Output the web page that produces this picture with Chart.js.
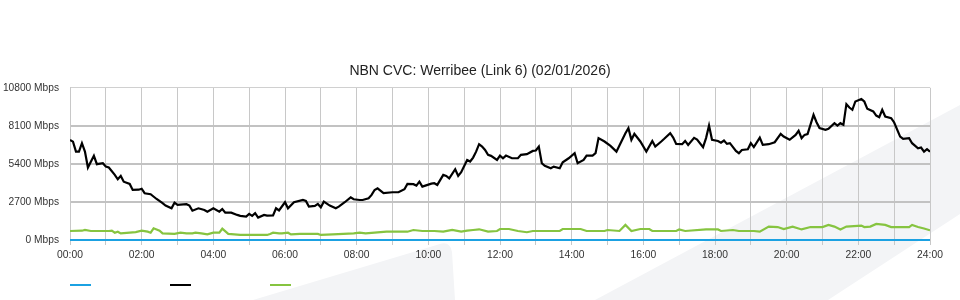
<!DOCTYPE html>
<html>
<head>
<meta charset="utf-8">
<script src="https://cdn.jsdelivr.net/npm/chart.js@4/dist/chart.umd.min.js"></script>
<style>
  html, body { margin: 0; padding: 0; background: #fff; }
  #wrap { position: relative; width: 960px; height: 300px; }
  canvas { display: block; }
  .lg { position: absolute; top: 284px; width: 21px; height: 2px; }
</style>
</head>
<body>
<div id="wrap">
  <canvas id="c" width="960" height="300"></canvas>
  <div class="lg" style="left:70px;background:#1ba1e2"></div>
  <div class="lg" style="left:170px;background:#000"></div>
  <div class="lg" style="left:270px;background:#86c440"></div>
</div>
<script>
// ---- data (times in minutes after midnight, values in Mbps) ----
const chartTitle = 'NBN CVC: Werribee (Link 6) (02/01/2026)';
const yTicks = [0, 2700, 5400, 8100, 10800];
const xLabelHours = [0, 2, 4, 6, 8, 10, 12, 14, 16, 18, 20, 22, 24];

const blueTimes  = [0, 60, 120, 180, 240, 300, 360, 420, 480, 540, 600, 660, 720, 780, 840, 900, 960, 1020, 1080, 1140, 1200, 1260, 1320, 1380, 1440];
const blueValues = [0, 0, 0, 0, 0, 0, 0, 0, 0, 0, 0, 0, 0, 0, 0, 0, 0, 0, 0, 0, 0, 0, 0, 0, 0];

const blackTimes = [0,5,10,15,20,25,30,40,45,55,60,65,75,80,85,90,100,105,115,120,125,135,145,155,160,170,175,180,195,200,205,215,225,230,240,250,255,260,270,280,285,295,300,305,310,315,325,330,340,345,350,360,365,375,390,395,400,410,415,420,425,435,445,450,460,470,475,485,490,500,505,510,515,525,540,550,560,565,575,580,585,590,595,605,610,615,625,630,635,645,650,655,665,670,675,680,685,690,695,700,705,715,720,725,730,740,750,755,765,775,780,785,790,795,805,810,820,825,835,845,850,860,865,875,880,885,895,905,915,920,930,935,940,945,955,965,975,980,990,995,1005,1010,1015,1025,1030,1035,1045,1050,1060,1065,1070,1075,1085,1090,1095,1100,1105,1115,1120,1125,1135,1140,1145,1155,1160,1170,1180,1190,1195,1205,1215,1220,1225,1230,1235,1245,1250,1255,1265,1270,1280,1285,1290,1295,1300,1305,1310,1315,1325,1330,1335,1345,1350,1355,1360,1365,1375,1380,1390,1395,1405,1410,1420,1425,1430,1435,1440];
const blackValues = [7100,6980,6270,6270,6870,6270,5140,5970,5380,5450,5210,5140,4620,4310,4550,4140,3980,3550,3570,3640,3320,3250,2910,2610,2440,2250,2650,2490,2540,2440,2080,2250,2130,2010,2250,2010,2200,1940,1940,1780,1710,1660,1850,1710,1900,1590,1780,1730,1750,2250,2100,2680,2250,2680,2840,2770,2370,2420,2560,2320,2720,2440,2250,2370,2680,3030,2890,2840,2840,2960,3200,3550,3670,3320,3390,3390,3600,3980,3960,3860,4140,3790,3860,4000,4030,3910,4620,4550,4380,5020,4550,4810,5680,5570,5850,6270,6800,6630,6390,6040,5970,5680,5990,5800,5990,5800,5800,6040,6090,6320,6350,6630,5450,5260,5090,5210,5090,5520,5800,6160,5450,5680,5990,5990,6160,7230,6990,6680,6270,6700,7580,7940,7110,7530,6990,6270,7030,6630,6990,7180,7580,7270,6820,6800,7030,6750,7250,7130,6590,7230,8120,7110,7030,6910,7060,6820,6870,6320,6160,6390,6440,6870,6590,7270,6750,6800,6940,7530,7340,7110,7460,7750,7230,7460,7510,8880,8360,7940,7820,7890,8290,8120,8290,8170,9640,9400,9240,9830,10000,9830,9310,9120,8830,8720,9240,8760,8650,8340,7340,7180,7230,6870,6510,6560,6270,6450,6270];

const greenTimes = [0,20,25,35,65,70,75,80,85,100,110,120,130,135,140,150,155,175,185,195,205,210,220,230,240,250,255,265,275,285,305,330,335,340,350,355,365,370,385,415,420,440,475,485,495,515,530,565,575,590,610,625,640,655,665,675,685,700,715,720,735,750,765,775,820,825,855,865,895,900,920,930,940,955,970,975,1015,1020,1030,1065,1085,1090,1110,1120,1145,1155,1170,1185,1195,1210,1225,1240,1260,1270,1280,1290,1300,1325,1330,1340,1350,1365,1375,1405,1410,1420,1430,1440];
const greenValues = [640,660,710,640,640,660,520,590,470,520,560,660,590,520,830,660,470,430,520,470,470,520,470,400,520,520,800,430,400,360,360,360,430,520,470,470,520,400,430,430,360,400,470,520,470,540,590,590,710,640,640,590,710,590,660,710,760,590,640,780,780,640,550,640,640,780,780,640,640,710,640,1070,640,780,780,640,640,750,640,750,750,640,710,640,640,590,950,920,780,950,750,920,920,1070,950,750,950,1020,920,950,1140,1070,920,920,1070,920,820,690];

function pts(times, values) { return times.map((t, i) => ({ x: t, y: values[i] })); }

Chart.defaults.font.family = '"Liberation Sans", Arial, sans-serif';

const watermark = {
  id: 'watermark',
  beforeDraw(chart) {
    const ctx = chart.ctx;
    ctx.save();
    ctx.fillStyle = '#f3f4f6';
    ctx.beginPath();
    ctx.moveTo(595, 300); ctx.lineTo(960, 105); ctx.lineTo(960, 214); ctx.lineTo(828, 300);
    ctx.closePath(); ctx.fill();
    ctx.beginPath();
    ctx.moveTo(253, 300); ctx.lineTo(440, 244);
    ctx.quadraticCurveTo(450, 241, 452, 252);
    ctx.lineTo(455, 300);
    ctx.closePath(); ctx.fill();
    ctx.restore();
  }
};

new Chart(document.getElementById('c'), {
  type: 'line',
  data: {
    datasets: [
      { label: '', data: pts(blueTimes, blueValues), borderColor: '#1ba1e2', borderWidth: 2.2, pointRadius: 0, tension: 0, clip: false },
      { label: '', data: pts(blackTimes, blackValues), borderColor: '#000000', borderWidth: 2.2, pointRadius: 0, tension: 0 },
      { label: '', data: pts(greenTimes, greenValues), borderColor: '#86c440', borderWidth: 2.2, pointRadius: 0, tension: 0 }
    ]
  },
  options: {
    responsive: false,
    animation: false,
    layout: { padding: { top: 63, left: 0, right: 0, bottom: 37 } },
    plugins: {
      legend: { display: false },
      tooltip: { enabled: false },
      title: {
        display: true, text: chartTitle, color: '#222',
        font: { size: 14, weight: 'normal' },
        padding: { top: 0, bottom: 8 }
      }
    },
    scales: {
      x: {
        type: 'linear', min: 0, max: 1440,
        afterFit(s) { s.height = 23; },
        ticks: {
          stepSize: 60, autoSkip: false, maxRotation: 0, padding: 4,
          color: '#333', font: { size: 10.3 },
          callback(v) {
            const h = v / 60;
            return xLabelHours.includes(h) ? String(h).padStart(2, '0') + ':00' : '';
          }
        },
        grid: { color: '#c8c8c8', lineWidth: 1, tickLength: 5 },
        border: { display: true, color: '#c8c8c8' }
      },
      y: {
        min: 0, max: 10800,
        afterFit(s) { s.width = 70; },
        afterBuildTicks(s) { s.ticks = yTicks.map(v => ({ value: v })); },
        ticks: {
          padding: 11, color: '#333', font: { size: 10.2 },
          callback(v) { return v + ' Mbps'; }
        },
        grid: {
          drawTicks: false,
          color: (c) => (c.tick && c.tick.value === 10800) ? '#d0d0d0' : '#c2c2c2',
          lineWidth: (c) => (c.tick && c.tick.value === 10800) ? 1 : 2
        },
        border: { display: true, color: '#c8c8c8' }
      },
      yRight: {
        position: 'right', min: 0, max: 10800,
        afterFit(s) { s.width = 30; },
        ticks: { display: false },
        grid: { display: false, drawOnChartArea: false },
        border: { display: false }
      }
    }
  },
  plugins: [watermark]
});
</script>
</body>
</html>
